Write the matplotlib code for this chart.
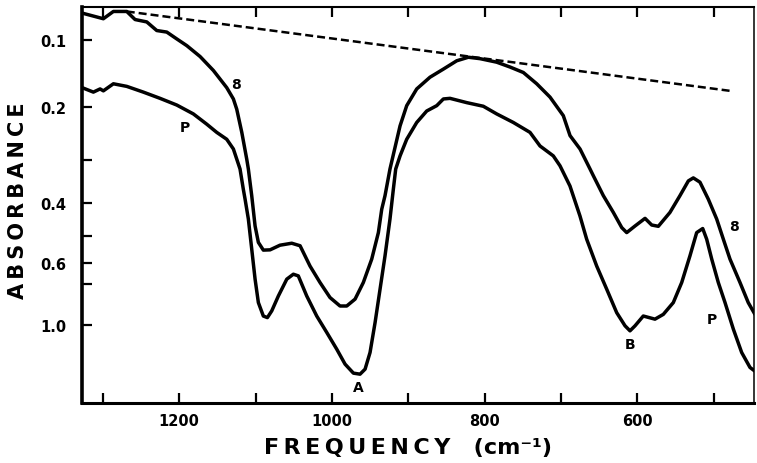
import numpy as np
import matplotlib
matplotlib.use("Agg")
from matplotlib import pyplot as plt
from matplotlib.ticker import FixedLocator, NullLocator

# spectrum B (upper curve)
freq_b = [1327, 1299.2, 1286.1, 1268.6, 1257.7, 1242.4, 1229.3, 1216.2, 1203.1, 1190.0,
          1172.6, 1155.2, 1137.7, 1129.0, 1124.6, 1118.0, 1111.5, 1109.4, 1105.0, 1100.6,
          1096.3, 1089.8, 1081.0, 1068.0, 1052.6, 1041.7, 1028.7, 1015.6, 1002.5, 989.4,
          980.6, 969.7, 958.9, 947.9, 939.2, 934.8, 930.5, 924.0, 910.8, 902.1,
          889.0, 871.6, 854.1, 836.6, 821.4, 806.1, 784.3, 766.8, 749.4, 731.9,
          714.5, 697.1, 688.3, 675.2, 662.1, 657.8, 644.7, 631.6, 620.6, 614.1,
          603.2, 590.1, 581.4, 572.7, 557.5, 544.4, 533.4, 526.9, 518.2, 507.3,
          496.3, 487.6, 478.9, 465.8, 455.0, 446.2]
abs_b = [0.066, 0.073, 0.064, 0.064, 0.074, 0.077, 0.088, 0.090, 0.099, 0.108,
         0.123, 0.143, 0.169, 0.187, 0.204, 0.245, 0.298, 0.319, 0.382, 0.467,
         0.521, 0.549, 0.548, 0.531, 0.524, 0.533, 0.613, 0.691, 0.777, 0.834,
         0.834, 0.787, 0.691, 0.584, 0.488, 0.418, 0.382, 0.319, 0.233, 0.198,
         0.171, 0.153, 0.141, 0.129, 0.124, 0.126, 0.131, 0.138, 0.146, 0.163,
         0.184, 0.215, 0.251, 0.277, 0.319, 0.334, 0.382, 0.427, 0.472, 0.488,
         0.467, 0.444, 0.464, 0.468, 0.427, 0.382, 0.346, 0.339, 0.349, 0.391,
         0.446, 0.510, 0.584, 0.691, 0.810, 0.899]

# spectrum P (lower curve)
freq_p = [1327, 1312.3, 1303.5, 1299.2, 1286.1, 1268.6, 1246.9, 1225.0, 1203.1, 1181.4,
          1163.9, 1150.8, 1137.7, 1129.0, 1120.3, 1116.0, 1113.7, 1109.4, 1105.0, 1100.6,
          1096.3, 1089.8, 1084.5, 1078.8, 1070.1, 1059.1, 1050.5, 1044.0, 1033.0, 1019.9,
          1006.8, 993.7, 982.8, 971.9, 963.2, 956.6, 950.1, 943.5, 937.0, 930.5,
          924.0, 919.6, 916.5, 910.8, 902.1, 889.0, 875.9, 862.8, 854.1, 845.4,
          823.5, 801.8, 784.3, 762.5, 740.7, 727.6, 710.2, 701.4, 688.4, 675.3,
          666.5, 653.4, 640.3, 627.2, 616.3, 609.8, 603.2, 592.4, 577.1, 566.2,
          553.1, 542.1, 531.3, 522.5, 514.6, 509.4, 502.8, 494.2, 485.4, 474.5,
          463.6, 452.7, 444.0]
abs_p = [0.169, 0.176, 0.171, 0.174, 0.163, 0.167, 0.176, 0.186, 0.197, 0.212,
         0.230, 0.245, 0.258, 0.277, 0.319, 0.366, 0.391, 0.446, 0.545, 0.674,
         0.810, 0.913, 0.927, 0.871, 0.767, 0.674, 0.650, 0.658, 0.767, 0.913,
         1.077, 1.254, 1.412, 1.507, 1.518, 1.465, 1.289, 0.973, 0.727, 0.571,
         0.446, 0.366, 0.319, 0.291, 0.258, 0.227, 0.207, 0.198, 0.187, 0.186,
         0.193, 0.199, 0.212, 0.227, 0.245, 0.271, 0.291, 0.312, 0.358, 0.437,
         0.510, 0.613, 0.727, 0.885, 1.007, 1.060, 1.007, 0.913, 0.941, 0.899,
         0.810, 0.691, 0.571, 0.488, 0.475, 0.510, 0.584, 0.691, 0.810, 1.042,
         1.289, 1.447, 1.500]

# dashed baseline
base_freq = [1268.6, 478.9]
base_abs = [0.064, 0.174]

ytick_vals = [0.1, 0.2, 0.3, 0.4, 0.5, 0.6, 0.7, 1.0]
ytick_labels = ["0.1", "0.2", "", "0.4", "", "0.6", "", "1.0"]
xtick_vals = [1300, 1200, 1100, 1000, 900, 800, 700, 600, 500]
xtick_labels = ["", "1200", "", "1000", "", "800", "", "600", ""]

LN10 = np.log(10.0)


# chart paper is linear in transmittance, continued linearly past A = 1
def fwd(a):
    a = np.asarray(a, dtype=float)
    t = np.where(a <= 1, np.power(10.0, -np.minimum(a, 1.0)), 0.1 - 0.1 * LN10 * (a - 1))
    return -t


def inv(t):
    t = -np.asarray(t, dtype=float)
    return np.where(t >= 0.1, -np.log10(np.clip(t, 0.1, None)), 1 + (0.1 - t) / (0.1 * LN10))


def spaced(s):
    return "\u2009".join(s)


fig = plt.figure(figsize=(7.57, 4.64), dpi=100)
ax = fig.add_axes([0.108, 0.129, 0.888, 0.853])
ax.set_yscale("function", functions=(fwd, inv))

ax.plot(freq_b, abs_b, color="black", lw=2.5, solid_joinstyle="round", solid_capstyle="round")
ax.plot(freq_p, abs_p, color="black", lw=2.5, solid_joinstyle="round", solid_capstyle="round")
ax.plot(base_freq, base_abs, color="black", lw=1.8, linestyle=(0, (3.2, 1.6)))

ax.set_xlim(1327.5, 447.5)
ax.set_ylim(1.824, 0.059)

ax.xaxis.set_major_locator(FixedLocator(xtick_vals))
ax.set_xticklabels(xtick_labels)
ax.xaxis.set_minor_locator(NullLocator())
ax.yaxis.set_major_locator(FixedLocator(ytick_vals))
ax.set_yticklabels(ytick_labels)
ax.yaxis.set_minor_locator(NullLocator())

ax.tick_params(axis="x", direction="in", length=7, width=1.6, top=True, pad=7, labelsize=10.5)
ax.tick_params(axis="y", direction="in", length=7, width=1.6, right=False, pad=11, labelsize=10.5)
for lab in ax.get_xticklabels() + ax.get_yticklabels():
    lab.set_fontweight("bold")

ax.spines["left"].set_linewidth(2.6)
ax.spines["bottom"].set_linewidth(2.2)
ax.spines["top"].set_linewidth(1.5)
ax.spines["right"].set_linewidth(1.1)

ax.set_xlabel(spaced("FREQUENCY") + "   (cm\u207b\u00b9)", fontsize=16, fontweight="bold")
ax.xaxis.set_label_coords(0.485, -0.085)
ax.set_ylabel(spaced("ABSORBANCE"), fontsize=15, fontweight="bold")
ax.yaxis.set_label_coords(-0.08, 0.515)

# curve letters
ax.text(1125, 0.163, "8", fontsize=10, fontweight="bold", ha="center", va="center")
ax.text(1192, 0.236, "P", fontsize=10, fontweight="bold", ha="center", va="center")
ax.text(966, 1.656, "A", fontsize=10, fontweight="bold", ha="center", va="center")
ax.text(610, 1.201, "B", fontsize=10, fontweight="bold", ha="center", va="center")
ax.text(474, 0.467, "8", fontsize=10, fontweight="bold", ha="center", va="center")
ax.text(503, 0.941, "P", fontsize=10, fontweight="bold", ha="center", va="center")

fig.savefig("out.png", dpi=100)
